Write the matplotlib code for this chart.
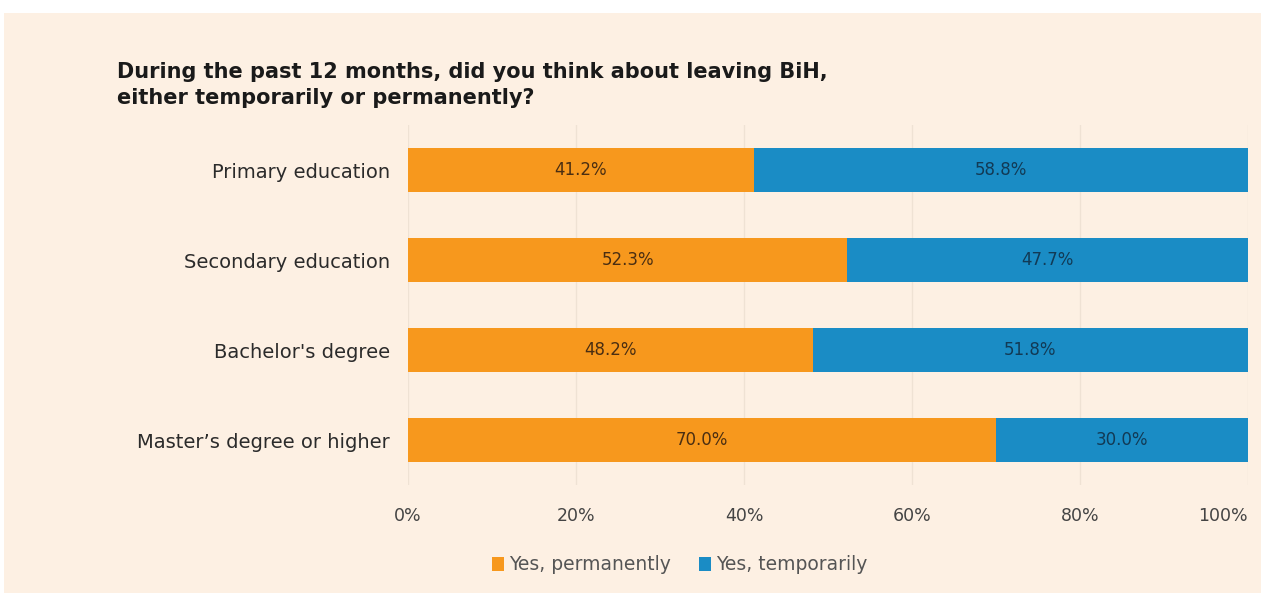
import matplotlib
matplotlib.use("Agg")
import matplotlib.pyplot as plt
import numpy as np

categories = ["Primary education", "Secondary education", "Bachelor's degree", "Master\u2019s degree or higher"]
permanently = [41.2, 52.3, 48.2, 70.0]
temporarily = [58.8, 47.7, 51.8, 30.0]
series_names = ["Yes, permanently", "Yes, temporarily"]
ticks = [0, 20, 40, 60, 80, 100]

orange = "#F7981D"
blue = "#1A8CC5"
bg = "#FDF0E3"
text_dark = "#2b2b2b"

plt.rcParams['font.family'] = ['DejaVu Sans']

fig = plt.figure(figsize=(12.61, 5.93), dpi=100, facecolor="white")
# cream panel
fig.patches.append(plt.Rectangle((0.003, 0), 0.997, 1 - 13 / 593, transform=fig.transFigure,
                                 facecolor=bg, edgecolor="none", zorder=-10))

ax = fig.add_axes([408 / 1261, 1 - 485 / 593, 840 / 1261, 360 / 593])
ax.set_facecolor("none")

y = np.arange(len(categories))
h = 0.49
ax.barh(y, permanently, height=h, color=orange, label=series_names[0], zorder=3)
ax.barh(y, temporarily, left=permanently, height=h, color=blue, label=series_names[1], zorder=3)

for i in range(len(categories)):
    ax.text(permanently[i] / 2, y[i], f"{permanently[i]:.1f}%", ha="center", va="center",
            fontsize=12, color="#4a2e12", zorder=4)
    ax.text(permanently[i] + temporarily[i] / 2, y[i], f"{temporarily[i]:.1f}%", ha="center",
            va="center", fontsize=12, color="#123a55", zorder=4)

ax.set_xlim(0, 100)
ax.set_ylim(3.5, -0.5)
ax.set_yticks(y)
ax.set_yticklabels(categories, fontsize=14, color=text_dark)
ax.set_xticks(ticks)
ax.set_xticklabels([f"{t}%" for t in ticks], fontsize=12.5, color="#444444")
ax.tick_params(axis="both", length=0)
ax.tick_params(axis="y", pad=13)
ax.tick_params(axis="x", pad=16)
ax.get_xticklabels()[-1].set_horizontalalignment("right")
ax.get_xticklabels()[-1].set_x(101.3)
for s in ax.spines.values():
    s.set_visible(False)
ax.grid(axis="x", color="#efe2d4", linewidth=1, zorder=0)

fig.text(117 / 1261, 1 - 85 / 593, "During the past 12 months, did you think about leaving BiH,\neither temporarily or permanently?",
         fontsize=15, fontweight="bold", color="#1a1a1a", va="center", ha="left", linespacing=1.35)

fig.legend(loc="center", bbox_to_anchor=(680 / 1261, 1 - 565 / 593), ncol=2, frameon=False,
           fontsize=13.5, handlelength=0.6, handleheight=0.7, handletextpad=0.3, columnspacing=1.5,
           labelcolor="#555555")

fig.savefig("out.png", dpi=100, facecolor=fig.get_facecolor())
